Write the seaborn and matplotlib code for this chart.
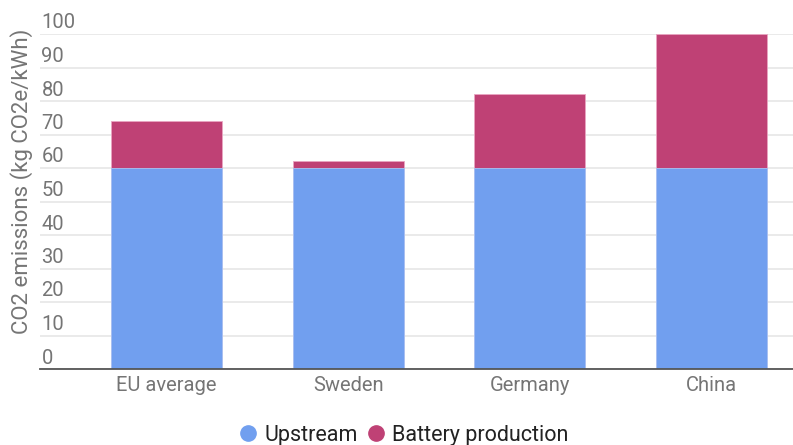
import matplotlib
matplotlib.use("Agg")
import matplotlib.pyplot as plt
import matplotlib.transforms as mtransforms
from matplotlib.lines import Line2D
import seaborn as sns
import pandas as pd

categories = ["EU average", "Sweden", "Germany", "China"]
upstream = [60, 60, 60, 60]
battery = [14, 2, 22, 40]
yticks = [0, 10, 20, 30, 40, 50, 60, 70, 80, 90, 100]

C_UP = "#719FEF"
C_BAT = "#BF4175"

sns.set_theme(style="white")
plt.rcParams["font.family"] = ["Roboto", "DejaVu Sans"]

df = pd.DataFrame({"cat": categories, "up": upstream, "bat": battery})
df["total"] = df["up"] + df["bat"]

W, H = 793, 445
fig = plt.figure(figsize=(W / 100, H / 100), dpi=100)
ax = fig.add_axes([40 / W, 1 - 369 / H, (793 - 40) / W, (369 - 34) / H])

sns.barplot(data=df, x="cat", y="total", color=C_BAT, width=0.61, ax=ax,
            saturation=1, edgecolor="#e9a6c2", linewidth=0.6, zorder=2)
sns.barplot(data=df, x="cat", y="up", color=C_UP, width=0.61, ax=ax,
            saturation=1, edgecolor="#a9c5f6", linewidth=0.6, zorder=3)

ax.set_xlim(-0.696, 3.449)
ax.set_ylim(0, 100)
ax.set_yticks(yticks)
ax.set_yticklabels([str(v) for v in yticks])
ax.yaxis.grid(True, color="#e6e6e6", linewidth=1.2, zorder=0)
ax.set_axisbelow(True)
for s in ["top", "right", "left"]:
    ax.spines[s].set_visible(False)
ax.spines["bottom"].set_color("#555555")
ax.spines["bottom"].set_linewidth(1.3)
ax.spines["bottom"].set_zorder(5)

ax.tick_params(axis="y", length=0, pad=-1, labelsize=14.5, labelcolor="#757575")
ax.tick_params(axis="x", length=0, pad=5, labelsize=14.5, labelcolor="#757575")
off = mtransforms.ScaledTranslation(0, 13 / 100, fig.dpi_scale_trans)
for lab in ax.get_yticklabels():
    lab.set_horizontalalignment("left")
    lab.set_transform(lab.get_transform() + off)

ax.set_xlabel("")
ax.set_ylabel("CO2 emissions (kg CO2e/kWh)", fontsize=16, color="#757575")
ax.yaxis.set_label_coords(-18 / (793 - 40), 0.56)
ax.yaxis.label.set_verticalalignment("center")

handles = [
    Line2D([0], [0], marker="o", linestyle="", markersize=11, markerfacecolor=C_UP,
           markeredgecolor=C_UP, label="Upstream"),
    Line2D([0], [0], marker="o", linestyle="", markersize=11, markerfacecolor=C_BAT,
           markeredgecolor=C_BAT, label="Battery production"),
]
fig.legend(handles=handles, loc="center", bbox_to_anchor=(403 / W, 1 - 435 / H),
           ncol=2, frameon=False, fontsize=15.5, handlelength=1.0,
           handletextpad=0.25, columnspacing=0.34, borderpad=0, borderaxespad=0,
           labelcolor="#222222")

fig.savefig("out.png", dpi=100)
